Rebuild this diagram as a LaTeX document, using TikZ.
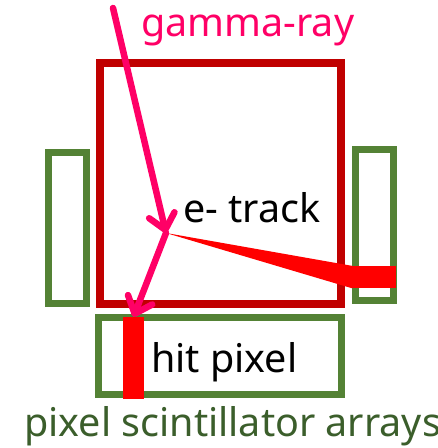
\documentclass[tikz,border=0pt]{standalone}
\usepackage{fontspec}
\setmainfont{Noto Sans}
\usetikzlibrary{arrows.meta,positioning}
\definecolor{crtred}{HTML}{C00000}
\definecolor{bargreen}{HTML}{548235}
\definecolor{txtgreen}{HTML}{3B5E2B}
\definecolor{raypink}{HTML}{FF0066}
\definecolor{hitred}{HTML}{FF0000}

\begin{document}
\begin{tikzpicture}[x=1pt,y=1pt,
    crt/.style={draw=crtred,line width=7.5pt,minimum width=241pt,minimum height=241pt,inner sep=0pt},
    bar/.style={draw=bargreen,line width=7pt,inner sep=0pt},
    hitfill/.style={fill=hitred,inner sep=0pt},
    lbl/.style={inner sep=0pt,anchor=base west,font=\fontsize{39.5}{42}\selectfont},
    ray/.style={draw=raypink,line width=6.5pt,line cap=round,
      -{Straight Barb[length=15pt,width=26pt,round]}}]
      \useasboundingbox (0,0) rectangle (438,448);
      \node[crt]                                            (crt)      at (220.5,264.5) {};
      \node[bar,minimum width=38pt,minimum height=151pt]    (leftbar)  at (67,219.5)    {};
      \node[bar,minimum width=38pt,minimum height=151pt]    (rightbar) at (374,222.5)   {};
      \node[bar,minimum width=243pt,minimum height=77pt]    (bottom)   at (219.5,91.5)  {};
      \node[hitfill,minimum width=21pt,minimum height=82pt] (hit)      at (133.5,90)    {};
      \node[hitfill,minimum width=44pt,minimum height=22pt] (sidehit)  at (374,171)     {};

      \coordinate (src) at (113,440);
      \coordinate (vtx) at (166,215);
      \fill[hitred] (vtx) -- (sidehit.north west) -- (sidehit.south west) -- cycle;
      \draw[ray] (src) -- (vtx);
      \draw[ray] (vtx) -- (hit.north);

      \node[lbl,text=raypink]  (gammalbl) at (141,411) {gamma-ray};
      \node[lbl]               (tracklbl) at (183,225) {e- track};
      \node[lbl]               (hitlbl)   at (151,75)  {hit pixel};
      \node[lbl,text=txtgreen] (arraylbl) at (24,12)   {pixel scintillator arrays};
\end{tikzpicture}
\end{document}
